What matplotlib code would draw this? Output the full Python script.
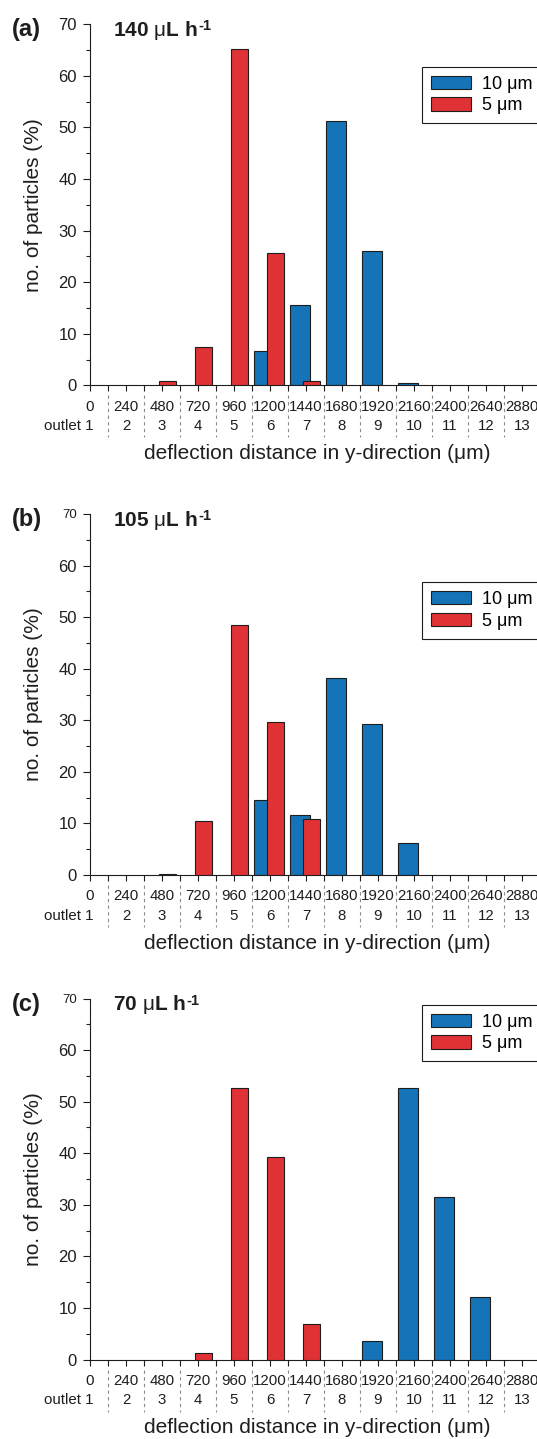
import matplotlib
matplotlib.use('Agg')
import matplotlib.pyplot as plt
import matplotlib.transforms as mtransforms
from matplotlib.patches import Patch

plt.rcParams['font.family'] = ['Liberation Sans', 'DejaVu Sans']
plt.rcParams['mathtext.fontset'] = 'custom'
plt.rcParams['mathtext.rm'] = 'Liberation Sans'
plt.rcParams['mathtext.bf'] = 'Liberation Sans:bold'

# data
distance = [0, 240, 480, 720, 960, 1200, 1440, 1680, 1920, 2160, 2400, 2640, 2880]
outlets = [1, 2, 3, 4, 5, 6, 7, 8, 9, 10, 11, 12, 13]
flow_rates = ['140', '105', '70']
panel_tags = ['(a)', '(b)', '(c)']

p10_a = [0, 0, 0, 0, 0, 6.7, 15.5, 51.3, 26.0, 0.45, 0, 0, 0]
p5_a = [0, 0, 0.9, 7.4, 65.2, 25.7, 0.9, 0, 0, 0, 0, 0, 0]
p10_b = [0, 0, 0, 0, 0, 14.5, 11.7, 38.2, 29.2, 6.2, 0, 0, 0]
p5_b = [0, 0, 0.15, 10.5, 48.5, 29.7, 10.9, 0, 0, 0, 0, 0, 0]
p10_c = [0, 0, 0, 0, 0, 0, 0, 0, 3.5, 52.6, 31.6, 12.2, 0]
p5_c = [0, 0, 0, 1.35, 52.7, 39.2, 6.8, 0, 0, 0, 0, 0, 0]

series_10 = [p10_a, p10_b, p10_c]
series_5 = [p5_a, p5_b, p5_c]

BLUE = '#1573b7'
RED = '#e03234'
EDGE = '#1e1e1e'

W, H = 537, 1439
AX_LEFT, AX_W = 90, 454.5
tops = [24.3, 514.0, 998.5]
AX_H = 361.0
legend_tops = [66.7, 582.0, 1004.7]

fig = plt.figure(figsize=(W / 100, H / 100), dpi=100)


def fy(px):
    return 1 - px / H


for i in range(3):
    top = tops[i]
    ax = fig.add_axes([AX_LEFT / W, fy(top + AX_H), AX_W / W, AX_H / H])

    xs10 = [d - 42 for d, v in zip(distance, series_10[i]) if v > 0]
    v10 = [v for v in series_10[i] if v > 0]
    xs5 = [d + 37 for d, v in zip(distance, series_5[i]) if v > 0]
    v5 = [v for v in series_5[i] if v > 0]
    ax.bar(xs10, v10, width=135, color=BLUE, edgecolor=EDGE, linewidth=0.8, zorder=2)
    ax.bar(xs5, v5, width=117, color=RED, edgecolor=EDGE, linewidth=0.8, zorder=3)

    ax.set_xlim(0, 3030)
    ax.set_ylim(0, 70)
    for s in ['top', 'right']:
        ax.spines[s].set_visible(False)
    for s in ['left', 'bottom']:
        ax.spines[s].set_linewidth(0.8)
        ax.spines[s].set_color(EDGE)

    ax.set_yticks(range(0, 71, 10))
    ax.set_yticks(range(5, 70, 10), minor=True)
    ax.tick_params(axis='y', which='major', direction='out', length=5, width=0.8,
                   pad=4.5, labelsize=12, colors=EDGE)
    ax.tick_params(axis='y', which='minor', direction='out', length=3, width=0.8, colors=EDGE)
    if i > 0:
        ax.get_yticklabels()[-1].set_fontsize(9.5)

    ax.set_xticks(distance)
    ax.set_xticklabels([str(d) for d in distance])
    ax.set_xticks([d + 120 for d in distance[:-1]], minor=True)
    ax.tick_params(axis='x', which='both', direction='out', length=4.3, width=0.8,
                   pad=6, labelsize=10.8, colors=EDGE)
    for lab in ax.get_xticklabels():
        if len(lab.get_text()) > 3:
            lab.set_family(['Liberation Sans Narrow', 'Liberation Sans'])

    blend = mtransforms.blended_transform_factory(ax.transData, ax.transAxes)
    # outlet separators
    for d in distance[:-1]:
        ax.plot([d + 120, d + 120], [-10 / AX_H, -52 / AX_H], transform=blend,
                color='#8a8a8a', linewidth=0.8, linestyle=(0, (3, 3)), clip_on=False)
    # outlet numbers
    for d, n in zip(distance, outlets):
        if n == 1:
            tr = mtransforms.offset_copy(blend, fig=fig, x=3.5, y=0, units='dots')
            ax.text(d, -41 / AX_H, 'outlet 1', transform=tr, ha='right', va='center',
                    fontsize=10.8, color=EDGE)
        else:
            ax.text(d, -41 / AX_H, str(n), transform=blend, ha='center', va='center',
                    fontsize=10.8, color=EDGE)

    ax.text(0.5, -73.6 / AX_H, 'deflection distance in y-direction (μm)',
            transform=ax.transAxes, ha='center', va='baseline', fontsize=15, color=EDGE)
    ax.text((39.5 - AX_LEFT) / AX_W, 0.5, 'no. of particles (%)', transform=ax.transAxes,
            rotation=90, ha='center', va='baseline', rotation_mode='anchor',
            fontsize=15, color=EDGE)

    fig.text(12 / W, fy(top + 12), panel_tags[i], fontsize=17, fontweight='bold',
             va='baseline', color=EDGE)
    title = fig.text(113 / W, fy(top + 12), flow_rates[i] + r' $\mathrm{\mu}$L h',
                     fontsize=15, fontweight='bold', va='baseline', color=EDGE)
    # superscript "-1" after the title
    ax.annotate('-1', xy=(1.0, 0.0), xycoords=title, xytext=(0.5, 8.5),
                textcoords='offset points', fontsize=10.5, fontweight='bold',
                color=EDGE, ha='left', va='baseline', annotation_clip=False)

    handles = [Patch(facecolor=BLUE, edgecolor=EDGE, linewidth=0.8),
               Patch(facecolor=RED, edgecolor=EDGE, linewidth=0.8)]
    leg = fig.legend(handles, ['10 μm', '5 μm'], loc='upper left',
                     bbox_to_anchor=(422 / W, fy(legend_tops[i])),
                     bbox_transform=fig.transFigure, borderaxespad=0,
                     fontsize=13, handlelength=2.2, handleheight=0.75,
                     handletextpad=0.6, labelspacing=0.25, borderpad=0.5,
                     fancybox=False, framealpha=1)
    leg.get_frame().set_edgecolor(EDGE)
    leg.get_frame().set_linewidth(0.8)

fig.savefig('out.png', dpi=100)
